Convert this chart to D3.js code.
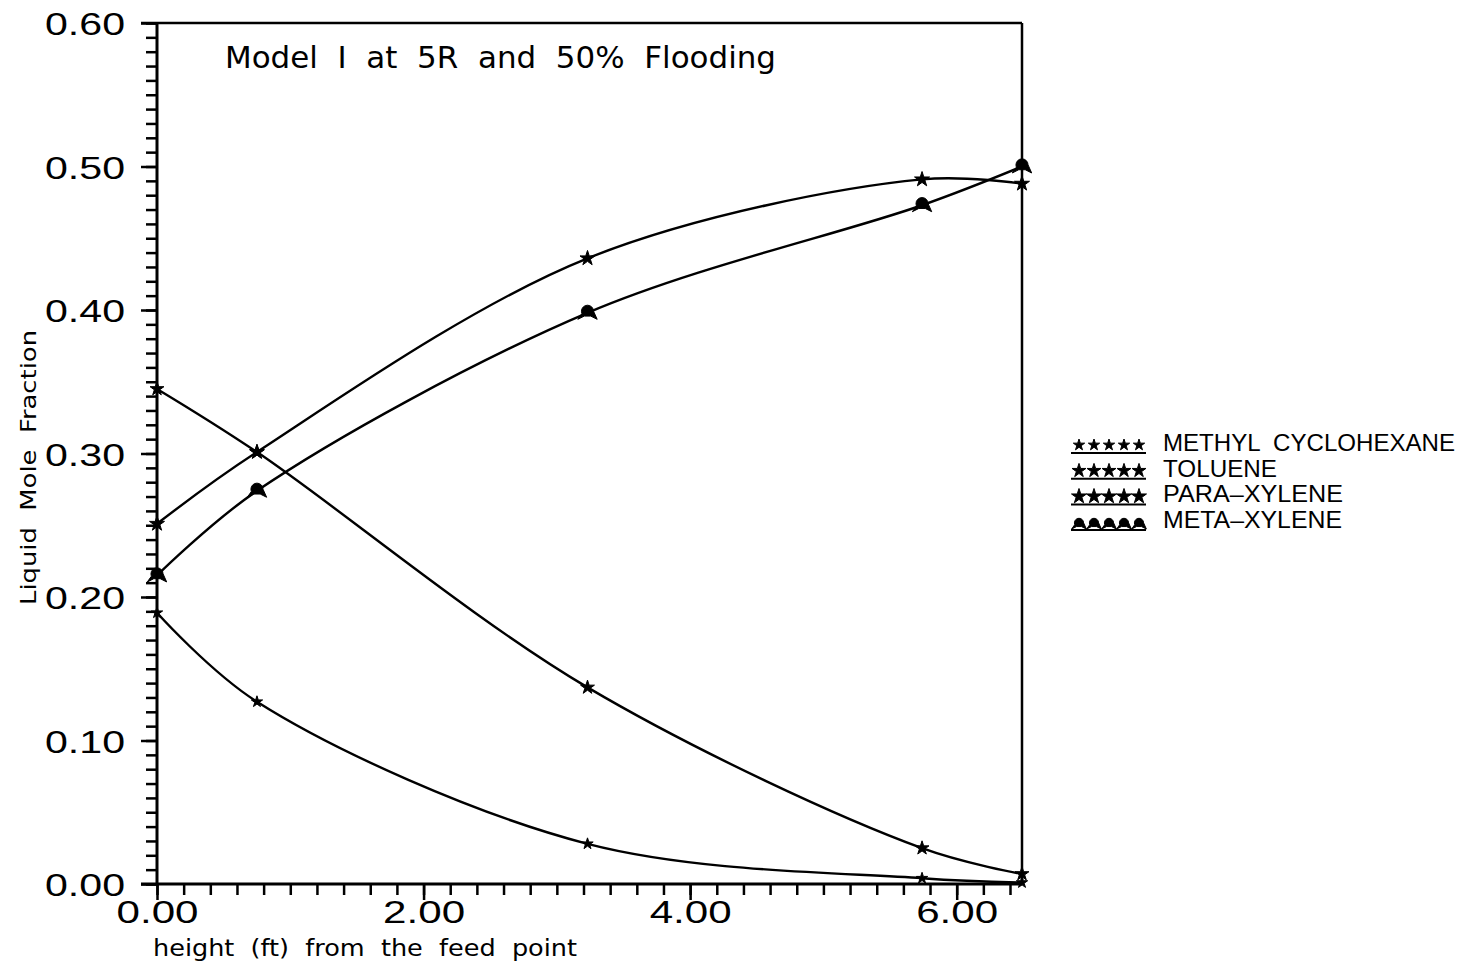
<!DOCTYPE html>
<html>
<head>
<meta charset="utf-8">
<script src="https://cdn.jsdelivr.net/npm/d3@7"></script>
<style>
  body { margin: 0; background: #fff; }
  text { fill: #000; }
</style>
</head>
<body>
<div id="vis"></div>
<script>
(function(){
  // 1. Data
  const heights = [0, 0.75, 3.23, 5.74, 6.49];
  const methylCyclohexane = [0.189, 0.127, 0.028, 0.004, 0.001];
  const toluene = [0.345, 0.301, 0.137, 0.025, 0.007];
  const paraXylene = [0.251, 0.301, 0.436, 0.491, 0.488];
  const metaXylene = [0.215, 0.274, 0.398, 0.473, 0.500];
  const seriesNames = ["METHYL  CYCLOHEXANE", "TOLUENE", "PARA\u2013XYLENE", "META\u2013XYLENE"];
  const yTicks = [0, 0.1, 0.2, 0.3, 0.4, 0.5, 0.6];
  const xTicks = [0, 2, 4, 6];

  const width = 1465, height = 968;
  const left = 157, right = 1022, top = 23, bottom = 884;

  const svg = d3.select("#vis").append("svg")
    .attr("width", width).attr("height", height)
    .style("font-family", "'DejaVu Sans', sans-serif");

  // 2. Scales
  const x = d3.scaleLinear().domain([0, 6.49]).range([left, right]);
  const y = d3.scaleLinear().domain([0, 0.6]).range([bottom, top]);

  // 3. Axes (major + minor ticks)
  const yMinor = d3.range(0, 0.6001, 0.01);
  const xMinor = d3.range(0, 6.49, 0.2);

  svg.append("g").attr("transform", `translate(${left},0)`)
    .call(d3.axisLeft(y).tickValues(yMinor).tickSize(11).tickFormat(""))
    .call(g => g.select(".domain").remove())
    .selectAll("line").attr("stroke", "#000").attr("stroke-width", 2.5);

  svg.append("g").attr("transform", `translate(${left},0)`)
    .call(d3.axisLeft(y).tickValues(yTicks).tickSize(16).tickPadding(16).tickFormat(d3.format(".2f")))
    .call(g => g.select(".domain").remove())
    .call(g => g.selectAll("line").attr("stroke", "#000").attr("stroke-width", 2.5))
    .call(g => g.selectAll("text").attr("font-size", 32).attr("fill", "#000").attr("dy", "0.36em")
      .attr("textLength", 80).attr("lengthAdjust", "spacingAndGlyphs"));

  svg.append("g").attr("transform", `translate(0,${bottom})`)
    .call(d3.axisBottom(x).tickValues(xMinor).tickSize(11).tickFormat(""))
    .call(g => g.select(".domain").remove())
    .selectAll("line").attr("stroke", "#000").attr("stroke-width", 2.5);

  svg.append("g").attr("transform", `translate(0,${bottom})`)
    .call(d3.axisBottom(x).tickValues(xTicks).tickSize(16).tickPadding(0).tickFormat(d3.format(".2f")))
    .call(g => g.select(".domain").remove())
    .call(g => g.selectAll("line").attr("stroke", "#000").attr("stroke-width", 2.5))
    .call(g => g.selectAll("text").attr("font-size", 32).attr("fill", "#000")
      .attr("textLength", 82).attr("lengthAdjust", "spacingAndGlyphs"));

  // frame: left axis, bottom axis, top border, right border
  const frame = svg.append("g").attr("stroke", "#000").attr("fill", "none");
  frame.append("line").attr("x1", left).attr("x2", left).attr("y1", top).attr("y2", bottom).attr("stroke-width", 3);
  frame.append("line").attr("x1", left - 16).attr("x2", right).attr("y1", bottom).attr("y2", bottom).attr("stroke-width", 3);
  frame.append("line").attr("x1", left - 16).attr("x2", right).attr("y1", top).attr("y2", top).attr("stroke-width", 2.5);
  frame.append("line").attr("x1", right).attr("x2", right).attr("y1", top).attr("y2", bottom).attr("stroke-width", 2.5);

  // 4. Curves
  const allSeries = [methylCyclohexane, toluene, paraXylene, metaXylene];
  const line = d3.line().curve(d3.curveCatmullRom.alpha(0.5))
    .x((d, i) => x(heights[i])).y(d => y(d));

  svg.append("g").selectAll("path")
    .data(allSeries)
    .join("path")
    .attr("d", d => line(d))
    .attr("fill", "none").attr("stroke", "#000").attr("stroke-width", 2.4);

  // 5. Markers
  const bell = {
    draw(ctx, size) {
      const r = Math.sqrt(size) / 2;
      ctx.moveTo(-r * 1.2, r * 0.8);
      ctx.lineTo(-r * 0.7, r * 0.1);
      ctx.arc(0, -r * 0.2, r * 0.75, Math.PI, 0);
      ctx.lineTo(r * 1.2, r * 0.8);
      ctx.lineTo(r * 0.4, r * 0.4);
      ctx.lineTo(-r * 0.4, r * 0.4);
      ctx.closePath();
    }
  };
  const markerTypes = [
    d3.symbol().type(d3.symbolStar).size(40),
    d3.symbol().type(d3.symbolStar).size(60),
    d3.symbol().type(d3.symbolStar).size(70),
    d3.symbol().type(bell).size(260)
  ];

  allSeries.forEach((s, k) => {
    svg.append("g").selectAll("path")
      .data(s)
      .join("path")
      .attr("transform", (d, i) => `translate(${x(heights[i])},${y(d)})`)
      .attr("d", markerTypes[k]())
      .attr("fill", "#000").attr("stroke", "#000").attr("stroke-width", 1);
  });

  // 6. Title and axis labels
  svg.append("text")
    .attr("x", 225).attr("y", 68)
    .attr("font-size", 30)
    .attr("textLength", 551).attr("lengthAdjust", "spacingAndGlyphs")
    .style("white-space", "pre")
    .text("Model  I  at  5R  and  50%  Flooding");

  svg.append("text")
    .attr("x", 153).attr("y", 956)
    .attr("font-size", 23)
    .attr("textLength", 424).attr("lengthAdjust", "spacingAndGlyphs")
    .style("white-space", "pre")
    .text("height  (ft)  from  the  feed  point");

  svg.append("text")
    .attr("transform", "translate(36,605) rotate(-90)")
    .attr("font-size", 22)
    .attr("textLength", 275).attr("lengthAdjust", "spacingAndGlyphs")
    .style("white-space", "pre")
    .text("Liquid  Mole  Fraction");

  // 7. Legend
  const legendTop = 451, legendStep = 25.7;
  const legendWidths = [292, 114, 180, 179];
  const legend = svg.append("g");
  seriesNames.forEach((name, k) => {
    const ly = legendTop + k * legendStep;
    const row = legend.append("g").attr("transform", `translate(0,${ly})`);
    row.selectAll("path")
      .data(d3.range(5))
      .join("path")
      .attr("transform", i => `translate(${1079 + i * 15},${k === 3 ? -4 : -6})`)
      .attr("d", k === 3 ? d3.symbol().type(bell).size(150)() : markerTypes[k]())
      .attr("fill", "#000").attr("stroke", "#000").attr("stroke-width", 1);
    row.append("line")
      .attr("x1", 1071).attr("x2", 1146).attr("y1", 2).attr("y2", 2)
      .attr("stroke", "#000").attr("stroke-width", 2);
    row.append("text")
      .attr("x", 1163).attr("y", 0)
      .attr("font-family", "'Liberation Sans', Arial, sans-serif")
      .attr("font-size", 24)
      .attr("textLength", legendWidths[k])
      .attr("lengthAdjust", "spacingAndGlyphs")
      .style("white-space", "pre")
      .text(name);
  });
})();
</script>
</body>
</html>
